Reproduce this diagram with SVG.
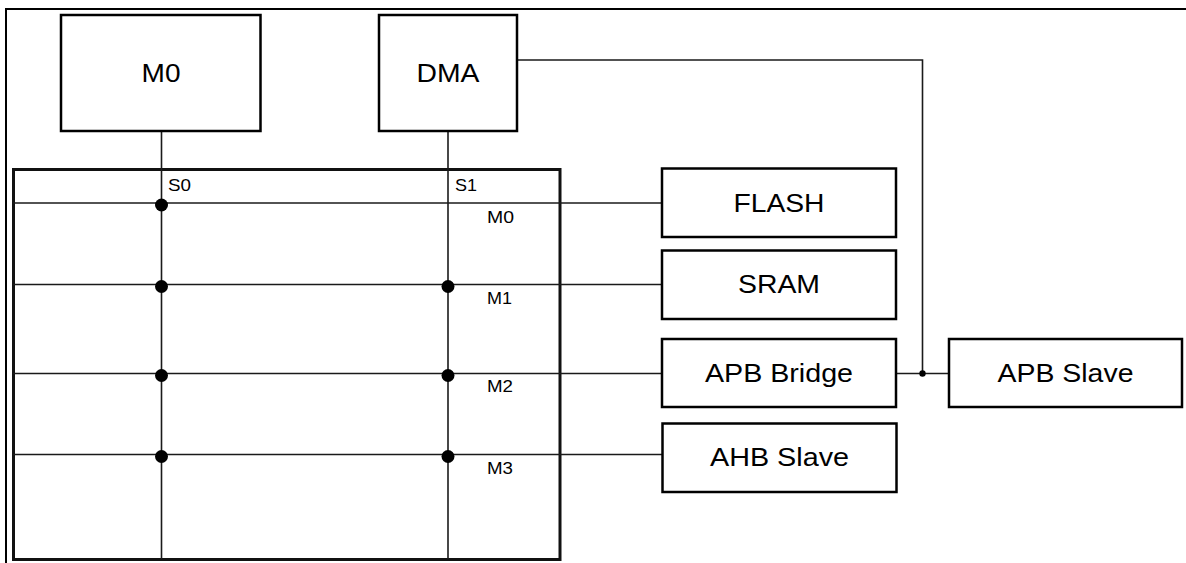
<svg xmlns="http://www.w3.org/2000/svg" width="1186" height="563" viewBox="0 0 1186 563">
<style>
.box{fill:#fff;stroke:#000;stroke-width:2.5}
.frame{fill:none;stroke:#000;stroke-width:2}
.mx{fill:none;stroke:#111;stroke-width:3}
.ln{fill:none;stroke:#1a1a1a;stroke-width:1.6}
.dot{fill:#000}
.big{font-family:"Liberation Sans",Arial,sans-serif;font-size:26px;fill:#000;text-anchor:middle}
.sm{font-family:"Liberation Sans",Arial,sans-serif;font-size:17px;fill:#000}
</style>
<rect width="1186" height="563" fill="#fff"/>
<path class="frame" d="M6,563 V9 H1186"/>
<g id="matrix">
<rect class="mx" x="13.5" y="169.5" width="546.5" height="390"/>
<text class="sm" x="168" y="191" textLength="23" lengthAdjust="spacingAndGlyphs">S0</text>
<text class="sm" x="455" y="191" textLength="22" lengthAdjust="spacingAndGlyphs">S1</text>
<text class="sm" x="487" y="222.5" textLength="27" lengthAdjust="spacingAndGlyphs">M0</text>
<text class="sm" x="487" y="304" textLength="25" lengthAdjust="spacingAndGlyphs">M1</text>
<text class="sm" x="487" y="392" textLength="26" lengthAdjust="spacingAndGlyphs">M2</text>
<text class="sm" x="487" y="474" textLength="26" lengthAdjust="spacingAndGlyphs">M3</text>
</g>
<g id="connectors">
<path class="ln" d="M161.5,131 V559"/>
<path class="ln" d="M448,131 V559"/>
<path class="ln" d="M13,203 H662"/>
<path class="ln" d="M13,284.5 H662"/>
<path class="ln" d="M13,373.5 H662"/>
<path class="ln" d="M13,454.5 H662"/>
<path class="ln" d="M517,60 H922.5 V373.5"/>
<path class="ln" d="M896,373.5 H949"/>
<circle class="dot" cx="161.5" cy="205" r="6.5"/>
<circle class="dot" cx="161.5" cy="286.5" r="6.5"/>
<circle class="dot" cx="161.5" cy="375.5" r="6.5"/>
<circle class="dot" cx="161.5" cy="456.5" r="6.5"/>
<circle class="dot" cx="448" cy="286.5" r="6.5"/>
<circle class="dot" cx="448" cy="375.5" r="6.5"/>
<circle class="dot" cx="448" cy="456.5" r="6.5"/>
<circle class="dot" cx="922.5" cy="373.5" r="3.2"/>
</g>
<g id="m0">
<rect class="box" x="61" y="15" width="199.5" height="116"/>
<text class="big" x="161" y="82" textLength="39" lengthAdjust="spacingAndGlyphs">M0</text>
</g>
<g id="dma">
<rect class="box" x="379" y="15" width="138" height="116"/>
<text class="big" x="448" y="82" textLength="63" lengthAdjust="spacingAndGlyphs">DMA</text>
</g>
<g id="flash">
<rect class="box" x="662" y="168.5" width="234" height="68.5"/>
<text class="big" x="779" y="212" textLength="91" lengthAdjust="spacingAndGlyphs">FLASH</text>
</g>
<g id="sram">
<rect class="box" x="662" y="250.5" width="234" height="68.5"/>
<text class="big" x="779" y="293" textLength="82" lengthAdjust="spacingAndGlyphs">SRAM</text>
</g>
<g id="apb-bridge">
<rect class="box" x="662" y="339" width="234" height="68"/>
<text class="big" x="779" y="381.5" textLength="148" lengthAdjust="spacingAndGlyphs">APB Bridge</text>
</g>
<g id="ahb-slave">
<rect class="box" x="662.5" y="423.5" width="234" height="68.5"/>
<text class="big" x="779.5" y="466" textLength="139" lengthAdjust="spacingAndGlyphs">AHB Slave</text>
</g>
<g id="apb-slave">
<rect class="box" x="949" y="339" width="233" height="68"/>
<text class="big" x="1065.5" y="381.5" textLength="136" lengthAdjust="spacingAndGlyphs">APB Slave</text>
</g>
</svg>
